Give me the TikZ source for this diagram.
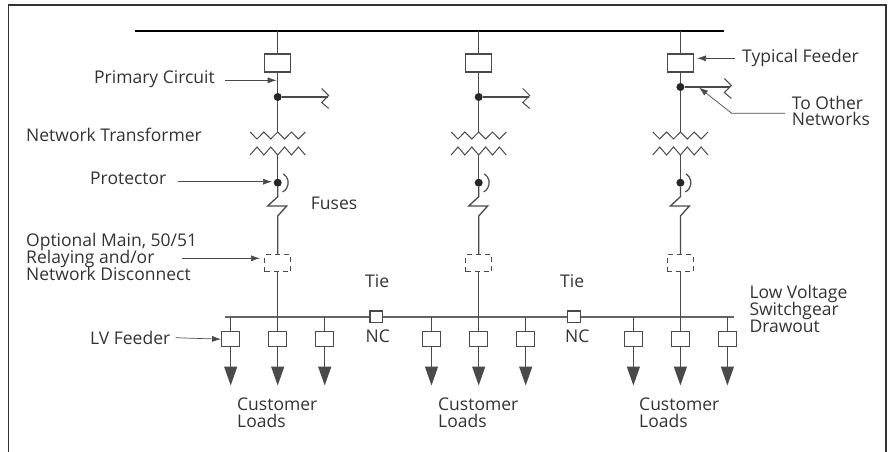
\documentclass[tikz,border=0pt]{standalone}
\usepackage{fontspec}
\setmainfont{Open Sans}
\usetikzlibrary{arrows.meta}
\definecolor{wirecol}{HTML}{4A4A4A}
\definecolor{textcol}{HTML}{333333}
\tikzset{>=latex,
  wire/.style={draw=wirecol, line width=1.3pt},
  busbar/.style={draw=wirecol!85, line width=2pt},
  leader/.style={draw=wirecol, line width=0.7pt, -{Latex[length=9pt,width=6pt]}},
  feederbox/.style={draw=wirecol, line width=1.2pt, fill=white, rectangle, inner sep=0pt, minimum width=26pt, minimum height=18pt},
  disconnectbox/.style={feederbox, dash pattern=on 5pt off 4pt, minimum height=17pt},
  loadbox/.style={feederbox, minimum width=18pt, minimum height=15pt},
  tiebox/.style={feederbox, minimum width=12.5pt, minimum height=11.5pt},
  junction/.style={circle, fill=black!85, inner sep=0pt, minimum size=8pt},
  lbl/.style={anchor=base west, inner sep=0pt, text=textcol, font=\fontsize{17.5}{18}\selectfont},
}
\begin{document}
\begin{tikzpicture}[x=1pt, y=-1pt]
 \useasboundingbox (0,0) rectangle (891,452);

 % Frame
 \draw[draw=black!80, line width=1.4pt] (8.5,452) -- (8.5,5) -- (886,5) -- (886,452);

 % Main bus
 \coordinate (mainL) at (135,31);
 \coordinate (mainR) at (724,31);
 \draw[black, line width=2.5pt] (mainL) -- (mainR);

 % LV bus
 \coordinate (lvL) at (225,316.7);
 \coordinate (lvR) at (734,316.7);
 \draw[busbar] (lvL) -- (lvR);

 % Feeders
 \foreach \n/\x/\yd in {A/277.7/97, B/478.7/97, C/680.4/87}{
    \coordinate (top\n) at (\x,31);
    \node[feederbox] (brk\n) at (\x,63) {};
    \node[junction] (dot\n) at (\x,\yd) {};
    \coordinate (priT\n) at (\x,132);
    \coordinate (secT\n) at (\x,155);
    \node[junction] (pro\n) at (\x,182.7) {};
    \node[disconnectbox] (dis\n) at (\x,263.3) {};
    \coordinate (tap\n) at (\x,316.7);
    \coordinate (endB\n) at (\x+50,\yd);

    \draw[wire] (top\n) -- (brk\n);
    \draw[wire] (brk\n) -- (dot\n);
    \draw[wire] (dot\n) -- (priT\n);
    \draw[wire] (dot\n) -- (endB\n);
    \draw[wire, line width=1pt] (\x+44,\yd-8.5) -- ++(7,7) -- ++(-7,7) -- ++(7,6);

    % Windings
    \draw[wire, line width=1pt] (\x-27.6,132) \foreach \i in {1,...,4}{ -- ++(6.9,7) -- ++(6.9,-7)};
    \draw[wire, line width=1pt] (\x-27.6,155) \foreach \i in {1,...,4}{ -- ++(6.9,-8) -- ++(6.9,8)};

    \draw[wire] (secT\n) -- (pro\n);
    \draw[wire, line width=1.2pt] ([shift={(-58:10.5)}]pro\n.center) arc[start angle=-58, end angle=62, radius=10.5];

    % Fuse
    \draw[wire] (pro\n) -- (\x,196.7) -- (\x-10,206) -- (\x+9,206) -- (\x,216) -- (dis\n.north);
    \draw[wire] (dis\n.south) -- (tap\n);
 }

 % Loads
 \foreach \n/\x in {a/230.7, b/277.7, c/324.7, d/431.5, e/478.7, f/525.7, g/633.4, h/680.4, i/727.4}{
    \coordinate (busT\n) at (\x,316.7);
    \node[loadbox] (ld\n) at (\x,339.2) {};
    \coordinate (tip\n) at (\x,385.5);
    \draw[wire] (busT\n) -- (ld\n);
    \draw[wire, -{Triangle[length=19pt,width=13pt]}] (ld\n) -- (tip\n);
 }

 % Ties
 \node[tiebox] (tieL) at (376.3,316.7) {};
 \node[tiebox] (tieR) at (574,316.7) {};

 % Labels
 \node[lbl] (lblPrimary) at (94,83) {Primary Circuit};
 \node[lbl] (lblTrafo) at (26,141.7) {Network Transformer};
 \node[lbl] (lblProt) at (90,184) {Protector};
 \node[lbl] (lblFuses) at (310.7,209) {Fuses};
 \node[lbl] (lblOptA) at (26,246.7) {Optional Main, 50/51};
 \node[lbl] (lblOptB) at (26,263.5) {Relaying and/or};
 \node[lbl] (lblOptC) at (26,280.5) {Network Disconnect};
 \node[lbl] (lblLV) at (90,344) {LV Feeder};
 \node[lbl] (lblTieL) at (365,287.7) {Tie};
 \node[lbl] (lblTieR) at (560,287.7) {Tie};
 \node[lbl] (lblNCL) at (365.5,342.3) {NC};
 \node[lbl] (lblNCR) at (565,342.3) {NC};
 \node[lbl] (lblTyp) at (742,63) {Typical Feeder};
 \node[lbl] (lblOthA) at (791.7,109) {To Other};
 \node[lbl] (lblOthB) at (791.7,125.7) {Networks};
 \node[lbl] (lblLowA) at (749.3,298.3) {Low Voltage};
 \node[lbl] (lblLowB) at (749.3,315.5) {Switchgear};
 \node[lbl] (lblLowC) at (749.3,332.7) {Drawout};
 \foreach \n/\x in {A/237, B/438, C/639}{
    \node[lbl] (lblCus\n) at (\x,410.7) {Customer};
    \node[lbl] (lblLoa\n) at (\x,427.7) {Loads};
 }

 % Leaders
 \coordinate (ldPriS) at (225,80.3);
 \coordinate (ldPriE) at (276.7,80.3);
 \draw[leader] (ldPriS) -- (ldPriE);
 \coordinate (ldProS) at (178,181.7);
 \coordinate (ldProE) at (272,181.7);
 \draw[leader] (ldProS) -- (ldProE);
 \coordinate (ldOptS) at (182,258.3);
 \coordinate (ldOptE) at (260,258.3);
 \draw[leader] (ldOptS) -- (ldOptE);
 \coordinate (ldLvS) at (175.7,337.7);
 \draw[leader] (ldLvS) -- (lda.west);
 \coordinate (ldTypS) at (735,58.3);
 \coordinate (ldTypE) at (697,58.3);
 \draw[leader] (ldTypS) -- (ldTypE);
 \coordinate (ldOthS) at (785,113.3);
 \coordinate (ldOthM) at (731.7,113.3);
 \coordinate (ldOthE) at (699,87.5);
 \draw[leader] (ldOthS) -- (ldOthM) -- (ldOthE);
\end{tikzpicture}
\end{document}
